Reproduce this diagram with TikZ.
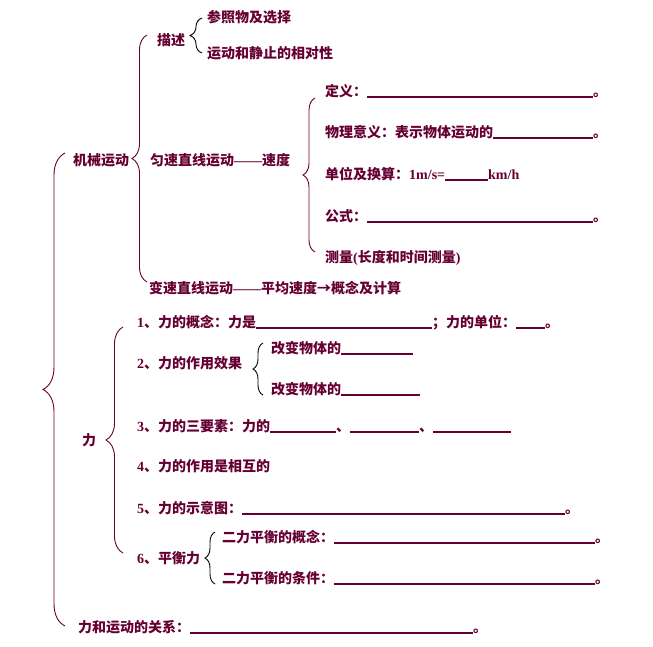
\documentclass[tikz,border=0pt]{standalone}
\usepackage{fontspec}
\newfontfamily\cjk{Noto Sans CJK SC}
\newfontfamily\lat{Liberation Serif}
\usetikzlibrary{decorations.pathreplacing}
\definecolor{ink}{RGB}{102,0,51}
\newcommand\blank[1]{\rule[-1.6pt]{#1}{1.2pt}}

\tikzset{
    item/.style={
           anchor=base west,
           inner sep=0pt,
           text=ink,
           font=\cjk\bfseries\fontsize{14}{16}\selectfont,
           },
    brc/.style={
           decorate,
           decoration={brace, amplitude=#1},
           draw=ink, line width=0.9pt,
           },
    sbrc/.style={
           brc=#1, draw=black,
           },
}

\begin{document}
\begin{tikzpicture}[x=1pt,y=-1pt]
       \useasboundingbox (0,0) rectangle (653,646);

       \node[item] (JIXIE) at (73,165) {机械运动};
       \node[item] (MIAOSHU) at (157,45) {描述};
       \node[item] (CANZHAO) at (207,22) {参照物及选择};
       \node[item] (XIANGDUI) at (207,58) {运动和静止的相对性};
       \node[item] (YUNSU) at (150,165) {匀速直线运动{\lat ——}速度};

       \node[item] (DINGYI) at (325,96) {定义：\blank{226pt}。};
       \node[item] (YIYI) at (325,137) {物理意义：表示物体运动的\blank{100pt}。};
       \node[item] (DANWEI) at (325,179) {单位及换算：{\lat 1m/s=}\blank{43pt}{\lat km/h}};
       \node[item] (GONGSHI) at (325,221) {公式：\blank{226pt}。};
       \node[item] (CELIANG) at (325,262) {测量{\lat (}长度和时间测量{\lat )}};

       \node[item] (BIANSU) at (149,293) {变速直线运动{\lat ——}平均速度→概念及计算};

       \node[item] (LI) at (82,445) {力};
       \node[item] (GAINIAN) at (137,327) {{\lat 1}、力的概念：力是\blank{176pt}；力的单位：\blank{29pt}。};
       \node[item] (XIAOGUO) at (137,368) {{\lat 2}、力的作用效果};
       \node[item] (GAIBIAN1) at (271,353) {改变物体的\blank{72pt}};
       \node[item] (GAIBIAN2) at (271,394) {改变物体的\blank{79pt}};
       \node[item] (YAOSU) at (137,431) {{\lat 3}、力的三要素：力的\blank{66pt}、\blank{69pt}、\blank{78pt}};
       \node[item] (XIANGHU) at (137,471) {{\lat 4}、力的作用是相互的};
       \node[item] (SHIYI) at (137,513) {{\lat 5}、力的示意图：\blank{323pt}。};
       \node[item] (PINGHENG) at (137,563) {{\lat 6}、平衡力};
       \node[item] (PHGN) at (222,542) {二力平衡的概念：\blank{261pt}。};
       \node[item] (PHTJ) at (222,583) {二力平衡的条件：\blank{261pt}。};

       \node[item] (GUANXI) at (78,632) {力和运动的关系：\blank{283pt}。};

       \draw[brc=22pt] (65,626) -- (65,153);
       \draw[brc=15pt] (147,282) -- (147,35);
       \draw[sbrc=12pt] (202,53) -- (202,18);
       \draw[brc=12pt] (315,252) -- (315,98);
       \draw[brc=17pt] (123,553) -- (123,327);
       \draw[sbrc=10pt] (263,395) -- (263,343);
       \draw[sbrc=10pt] (215,584) -- (215,532);

\end{tikzpicture}
\end{document}
